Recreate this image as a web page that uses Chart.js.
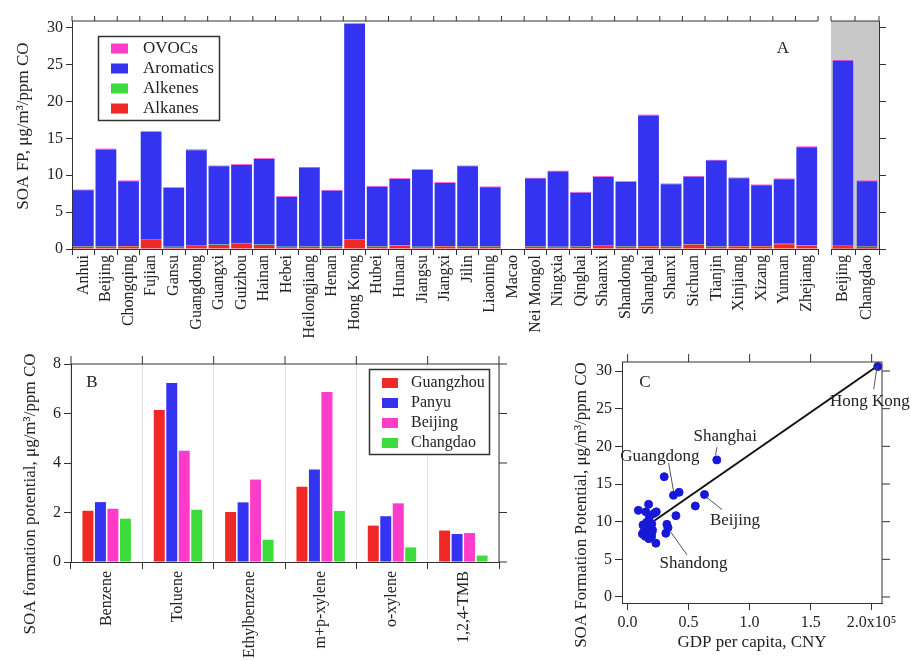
<!DOCTYPE html>
<html>
<head>
<meta charset="utf-8">
<script src="https://cdn.jsdelivr.net/npm/chart.js@4.4.0/dist/chart.umd.min.js"></script>
<style>
html, body { margin: 0; padding: 0; background: #fff; }
#wrap { position: relative; width: 911px; height: 661px; overflow: hidden; }
canvas { position: absolute; }
</style>
</head>
<body>
<div id="wrap">
<canvas id="cA" width="826" height="345" style="left:0px;top:0px"></canvas>
<canvas id="cA2" width="85" height="345" style="left:826px;top:0px"></canvas>
<canvas id="cB" width="540" height="331" style="left:0px;top:330px"></canvas>
<canvas id="cC" width="371" height="331" style="left:540px;top:330px"></canvas>
</div>
<script>
// Panel A: SOA formation potential by province (stacked)
const provinces = ['Anhui', 'Beijing', 'Chongqing', 'Fujian', 'Gansu', 'Guangdong', 'Guangxi', 'Guizhou',
    'Hainan', 'Hebei', 'Heilongjiang', 'Henan', 'Hong Kong', 'Hubei', 'Hunan', 'Jiangsu', 'Jiangxi',
    'Jilin', 'Liaoning', 'Macao', 'Nei Mongol', 'Ningxia', 'Qinghai', 'Shaanxi', 'Shandong', 'Shanghai',
    'Shanxi', 'Sichuan', 'Tianjin', 'Xinjiang', 'Xizang', 'Yunnan', 'Zhejiang'];
const alkanes = [0.3, 0.3, 0.35, 1.22, 0.25, 0.4, 0.55, 0.77, 0.55, 0.25, 0.3, 0.28, 1.22, 0.3, 0.45, 0.25, 0.35,
    0.3, 0.3, 0, 0.3, 0.25, 0.3, 0.4, 0.3, 0.35, 0.3, 0.6, 0.3, 0.35, 0.35, 0.65, 0.45];
const alkenes = [0.05, 0.05, 0.05, 0.05, 0.05, 0.05, 0.05, 0.05, 0.05, 0.05, 0.05, 0.05, 0.05, 0.05, 0.05, 0.05, 0.05,
    0.05, 0.05, 0, 0.05, 0.05, 0.05, 0.05, 0.05, 0.05, 0.05, 0.05, 0.05, 0.05, 0.05, 0.05, 0.05];
const aromatics = [7.6, 13.15, 8.78, 14.6, 7.97, 12.95, 10.6, 10.58, 11.6, 6.75, 10.65, 7.57, 29.23, 8.1, 9.0, 10.4, 8.55,
    10.85, 8.01, 0, 9.19, 10.2, 7.29, 9.31, 8.74, 17.7, 8.42, 9.15, 11.63, 9.18, 8.23, 8.75, 13.3];
const ovocs = [0.1, 0.1, 0.1, 0.1, 0.1, 0.1, 0.1, 0.1, 0.1, 0.1, 0.1, 0.1, 0.1, 0.1, 0.1, 0.1, 0.1,
    0.1, 0.1, 0, 0.1, 0.1, 0.1, 0.1, 0.1, 0.1, 0.1, 0.1, 0.1, 0.1, 0.1, 0.1, 0.1];

// measurement sites (grey panel)
const sites = ['Beijing', 'Changdao'];
const siteAlkanes = [0.4, 0.3];
const siteAlkenes = [0.05, 0.05];
const siteAromatics = [25.05, 8.83];
const siteOvocs = [0.1, 0.1];

// Panel B: individual aromatics
const compounds = ['Benzene', 'Toluene', 'Ethylbenzene', 'm+p-xylene', 'o-xylene', '1,2,4-TMB'];
const guangzhou = [2.07, 6.14, 2.02, 3.04, 1.47, 1.27];
const panyu = [2.42, 7.23, 2.41, 3.74, 1.85, 1.13];
const beijingB = [2.15, 4.5, 3.33, 6.87, 2.37, 1.17];
const changdao = [1.75, 2.11, 0.9, 2.06, 0.59, 0.26];

// Panel C: SOA FP vs GDP per capita (x in 1e5 CNY)
const gdpNames = ['Anhui', 'Beijing', 'Chongqing', 'Fujian', 'Gansu', 'Guangdong', 'Guangxi', 'Guizhou',
    'Hainan', 'Hebei', 'Heilongjiang', 'Henan', 'Hong Kong', 'Hubei', 'Hunan', 'Jiangsu', 'Jiangxi',
    'Jilin', 'Liaoning', 'Nei Mongol', 'Ningxia', 'Qinghai', 'Shaanxi', 'Shandong', 'Shanghai',
    'Shanxi', 'Sichuan', 'Tianjin', 'Xinjiang', 'Xizang', 'Yunnan', 'Zhejiang'];
const gdpPerCapita = [0.145, 0.63, 0.18, 0.30, 0.121, 0.376, 0.15, 0.088, 0.172, 0.232, 0.217, 0.196, 2.05, 0.199,
    0.175, 0.396, 0.148, 0.235, 0.313, 0.322, 0.179, 0.174, 0.182, 0.331, 0.731, 0.204, 0.154, 0.555, 0.198,
    0.139, 0.126, 0.422];
const soaTotal = [8.05, 13.6, 9.28, 15.97, 8.37, 13.5, 11.3, 11.5, 12.3, 7.15, 11.1, 8.0, 30.6, 8.55, 9.6, 10.8, 9.05,
    11.3, 8.46, 9.64, 10.6, 7.74, 9.86, 9.19, 18.2, 8.87, 9.9, 12.08, 9.68, 8.73, 9.55, 13.9];
const fitX = [0.1, 2.05];
const fitY = [8.8, 30.7];

const FONT = '"Liberation Serif", "Times New Roman", serif';
const INK = '#222';
const AXIS = '#333';
const RED = 'rgb(240, 40, 40)';
const BLUE = 'rgb(52, 52, 240)';
const GREEN = 'rgb(60, 220, 60)';
const PINK = 'rgb(255, 60, 200)';

Chart.defaults.font.family = FONT;
Chart.defaults.font.size = 16;
Chart.defaults.color = INK;
Chart.defaults.animation = false;
Chart.defaults.responsive = false;
Chart.defaults.plugins.legend.display = false;
Chart.defaults.plugins.tooltip.enabled = false;

// positions of the tick marks along an axis
function tickPixels(s) {
    if (s.type === 'category') {
        const n = s.ticks.length;
        const step = (s.right - s.left) / n;
        const out = [];
        for (let i = 0; i <= n; i++) out.push(s.left + i * step);
        return out;
    }
    return s.ticks.map(t => s.getPixelForValue(t.value));
}

// Igor-like frame: top/right mirror axes, panel letter, y title, grey background
const framePlugin = {
    id: 'frame',
    beforeDraw(chart, args, o) {
        if (!o.fill) return;
        const a = chart.chartArea;
        chart.ctx.save();
        chart.ctx.fillStyle = o.fill;
        chart.ctx.fillRect(a.left, a.top, a.right - a.left, a.bottom - a.top);
        chart.ctx.restore();
    },
    afterDraw(chart, args, o) {
        const { ctx, chartArea: a } = chart;
        const xs = chart.scales.x, ys = chart.scales.y;
        const len = o.len || 6;
        ctx.save();
        ctx.strokeStyle = AXIS;
        ctx.lineWidth = 1;
        ctx.beginPath();
        if (o.top) {
            ctx.moveTo(a.left, a.top);
            ctx.lineTo(a.right, a.top);
            tickPixels(xs).forEach(px => {
                ctx.moveTo(px, a.top);
                ctx.lineTo(px, a.top - len);
            });
        }
        if (o.right) {
            ctx.moveTo(a.right, a.top);
            ctx.lineTo(a.right, a.bottom);
            tickPixels(ys).forEach(py => {
                ctx.moveTo(a.right, py);
                ctx.lineTo(a.right + len, py);
            });
        }
        ctx.stroke();
        ctx.fillStyle = INK;
        ctx.font = '17px ' + FONT;
        ctx.textAlign = 'center';
        ctx.textBaseline = 'middle';
        if (o.tag) ctx.fillText(o.tag, a.left + o.tagX, a.top + o.tagY);
        if (o.ytitle) {
            ctx.translate(o.ytx, o.yty);
            ctx.rotate(-Math.PI / 2);
            ctx.fillText(o.ytitle, 0, 0);
        }
        ctx.restore();
    }
};

// boxed legend placed inside the plot
const boxLegend = {
    id: 'boxLegend',
    afterDraw(chart, args, o) {
        if (!o.w) return;
        const ctx = chart.ctx;
        const list = o.reverse ? chart.data.datasets.slice().reverse() : chart.data.datasets;
        ctx.save();
        ctx.fillStyle = '#fff';
        ctx.fillRect(o.x, o.y, o.w, o.h);
        ctx.strokeStyle = AXIS;
        ctx.lineWidth = 1.5;
        ctx.strokeRect(o.x + 0.5, o.y + 0.5, o.w, o.h);
        ctx.font = o.size + 'px ' + FONT;
        ctx.textBaseline = 'middle';
        list.forEach((d, i) => {
            const cy = o.y + o.first + i * o.gap;
            ctx.fillStyle = d.backgroundColor;
            ctx.fillRect(o.x + o.sx, cy - 5, o.sw, 10);
            ctx.fillStyle = INK;
            ctx.fillText(d.label, o.x + o.tx, cy);
        });
        ctx.restore();
    }
};

// callout labels with leader lines, in data units
const callouts = {
    id: 'callouts',
    afterDraw(chart, args, o) {
        if (!o.items) return;
        const { ctx } = chart;
        const xs = chart.scales.x, ys = chart.scales.y;
        ctx.save();
        ctx.strokeStyle = '#555';
        ctx.lineWidth = 1;
        ctx.font = '17px ' + FONT;
        ctx.textAlign = 'center';
        ctx.textBaseline = 'middle';
        o.items.forEach(c => {
            ctx.beginPath();
            ctx.moveTo(xs.getPixelForValue(c.lx[0]), ys.getPixelForValue(c.ly[0]));
            ctx.lineTo(xs.getPixelForValue(c.lx[1]), ys.getPixelForValue(c.ly[1]));
            ctx.stroke();
            ctx.fillStyle = INK;
            ctx.fillText(c.text, xs.getPixelForValue(c.tx), ys.getPixelForValue(c.ty));
        });
        ctx.restore();
    }
};

function stackDatasets(al, ak, ar, ov, pct) {
    const mk = (label, data, color) => ({
        label: label, data: data, backgroundColor: color,
        borderWidth: 0, barPercentage: pct, categoryPercentage: 1.0
    });
    return [
        mk('Alkanes', al, RED),
        mk('Alkenes', ak, GREEN),
        mk('Aromatics', ar, BLUE),
        mk('OVOCs', ov, PINK)
    ];
}

const yRangeA = { min: 0, max: 30.9 };

// main province chart
new Chart(document.getElementById('cA'), {
    type: 'bar',
    data: { labels: provinces, datasets: stackDatasets(alkanes, alkenes, aromatics, ovocs, 0.92) },
    options: {
        layout: { padding: { top: 21, right: 3, left: 0, bottom: 0 } },
        scales: {
            x: {
                stacked: true,
                afterFit: s => { s.height = 96; },
                border: { display: true, color: AXIS, width: 1 },
                grid: { offset: true, drawOnChartArea: false, tickLength: 6, color: AXIS },
                ticks: { autoSkip: false, minRotation: 90, maxRotation: 90, padding: 0, font: { size: 16 } }
            },
            y: {
                stacked: true,
                min: yRangeA.min, max: yRangeA.max,
                afterFit: s => { s.width = 72; },
                border: { display: true, color: AXIS, width: 1 },
                grid: { drawOnChartArea: false, tickLength: 6, color: AXIS },
                ticks: { stepSize: 5, includeBounds: false, padding: 3, font: { size: 16 } }
            }
        },
        plugins: {
            frame: { top: true, len: 5, tag: 'A', tagX: 711, tagY: 28,
                ytitle: 'SOA FP, μg/m³/ppm CO', ytx: 24, yty: 126 },
            boxLegend: { reverse: true, x: 98, y: 36, w: 121, h: 84, first: 12.5, gap: 20, sx: 13, sw: 17, tx: 45, size: 17 }
        }
    },
    plugins: [framePlugin, boxLegend]
});

// grey panel with the two measurement sites
new Chart(document.getElementById('cA2'), {
    type: 'bar',
    data: { labels: sites, datasets: stackDatasets(siteAlkanes, siteAlkenes, siteAromatics, siteOvocs, 0.85) },
    options: {
        layout: { padding: { top: 21, right: 24, left: 5, bottom: 0 } },
        scales: {
            x: {
                stacked: true,
                afterFit: s => { s.height = 96; },
                border: { display: true, color: AXIS, width: 1 },
                grid: { offset: true, drawOnChartArea: false, tickLength: 6, color: AXIS },
                ticks: { autoSkip: false, minRotation: 90, maxRotation: 90, padding: 0, font: { size: 16 } }
            },
            y: {
                stacked: true,
                position: 'right',
                min: yRangeA.min, max: yRangeA.max,
                afterFit: s => { s.width = 8; },
                border: { display: true, color: AXIS, width: 1 },
                grid: { drawOnChartArea: false, tickLength: 7, color: AXIS },
                ticks: { display: false, stepSize: 5, includeBounds: false }
            }
        },
        plugins: {
            frame: { top: true, len: 5, fill: '#c8c8c8' }
        }
    },
    plugins: [framePlugin]
});

// Panel B
new Chart(document.getElementById('cB'), {
    type: 'bar',
    data: {
        labels: compounds,
        datasets: [
            { label: 'Guangzhou', data: guangzhou, backgroundColor: RED },
            { label: 'Panyu', data: panyu, backgroundColor: BLUE },
            { label: 'Beijing', data: beijingB, backgroundColor: PINK },
            { label: 'Changdao', data: changdao, backgroundColor: GREEN }
        ].map(d => Object.assign(d, { borderWidth: 0, categoryPercentage: 0.7, barPercentage: 0.88 }))
    },
    options: {
        layout: { padding: { top: 34, right: 41, left: 0, bottom: 0 } },
        scales: {
            x: {
                afterFit: s => { s.height = 99; },
                border: { display: true, color: AXIS, width: 1 },
                grid: { offset: true, drawOnChartArea: true, color: '#e2e2e2', tickColor: AXIS, tickLength: 7 },
                ticks: { autoSkip: false, minRotation: 90, maxRotation: 90, padding: 2, font: { size: 16 } }
            },
            y: {
                min: 0, max: 8,
                afterFit: s => { s.width = 71; },
                border: { display: true, color: AXIS, width: 1 },
                grid: { drawOnChartArea: false, tickLength: 7, color: AXIS },
                ticks: { stepSize: 2, padding: 3, font: { size: 16 } }
            }
        },
        plugins: {
            frame: { top: true, right: true, len: 8, tag: 'B', tagX: 21, tagY: 19,
                ytitle: 'SOA formation potential, μg/m³/ppm CO', ytx: 31, yty: 164 },
            boxLegend: { x: 369, y: 39, w: 120, h: 85, first: 14, gap: 20, sx: 13, sw: 16, tx: 42, size: 16 }
        }
    },
    plugins: [framePlugin, boxLegend]
});

// Panel C
new Chart(document.getElementById('cC'), {
    type: 'scatter',
    data: {
        datasets: [
            {
                label: 'provinces',
                data: gdpPerCapita.map((g, i) => ({ x: g, y: soaTotal[i] })),
                backgroundColor: 'rgb(24, 24, 215)',
                borderColor: 'rgb(24, 24, 215)',
                pointRadius: 4,
                showLine: false
            },
            {
                label: 'fit',
                data: fitX.map((x, i) => ({ x: x, y: fitY[i] })),
                showLine: true,
                borderColor: '#111',
                borderWidth: 2,
                pointRadius: 0
            }
        ]
    },
    options: {
        layout: { padding: { top: 32, right: 29, left: 0, bottom: 0 } },
        scales: {
            x: {
                type: 'linear',
                min: -0.046, max: 2.085,
                afterFit: s => { s.height = 58; },
                border: { display: true, color: AXIS, width: 1 },
                grid: { drawOnChartArea: false, tickLength: 7, color: AXIS },
                ticks: {
                    stepSize: 0.5, includeBounds: false, padding: 3, font: { size: 16 },
                    callback: v => v === 2 ? '2.0x10⁵' : v.toFixed(1)
                },
                title: { display: true, text: 'GDP per capita, CNY', font: { size: 17 }, padding: { top: 0, bottom: 8 } }
            },
            y: {
                min: -0.8, max: 31.2,
                afterFit: s => { s.width = 82; },
                border: { display: true, color: AXIS, width: 1 },
                grid: { drawOnChartArea: false, tickLength: 7, color: AXIS },
                ticks: { stepSize: 5, includeBounds: false, padding: 3, font: { size: 16 } }
            }
        },
        plugins: {
            frame: { top: true, right: true, len: 8, tag: 'C', tagX: 23, tagY: 21,
                ytitle: 'SOA Formation Potential, μg/m³/ppm CO', ytx: 42, yty: 175 },
            callouts: {
                items: [
                    { text: 'Hong Kong', tx: 1.985, ty: 25.9, lx: [2.045, 2.017], ly: [30.6, 27.6] },
                    { text: 'Shanghai', tx: 0.80, ty: 21.25, lx: [0.733, 0.72], ly: [19.9, 18.8] },
                    { text: 'Guangdong', tx: 0.264, ty: 18.7, lx: [0.336, 0.377], ly: [17.8, 14.0] },
                    { text: 'Beijing', tx: 0.88, ty: 10.2, lx: [0.643, 0.774], ly: [13.3, 11.6] },
                    { text: 'Shandong', tx: 0.54, ty: 4.5, lx: [0.35, 0.487], ly: [8.7, 5.6] }
                ]
            }
        }
    },
    plugins: [framePlugin, callouts]
});
</script>
</body>
</html>
